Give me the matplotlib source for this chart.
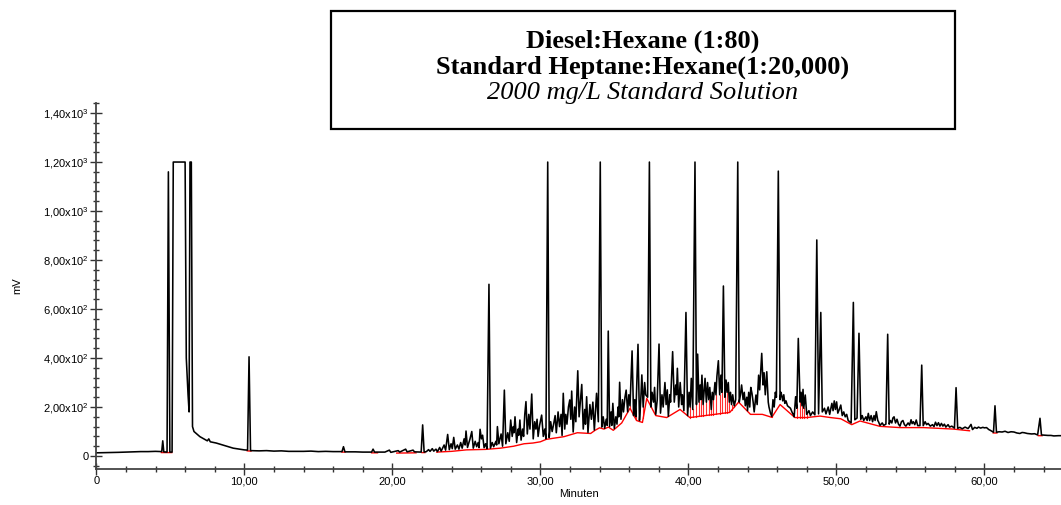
import numpy as np
import matplotlib
matplotlib.use("Agg")
import matplotlib.pyplot as plt
from matplotlib.patches import Rectangle
from matplotlib.ticker import MultipleLocator

plt.rcParams['font.family'] = ['Liberation Sans', 'DejaVu Sans']
plt.rcParams['mathtext.default'] = 'regular'

# chromatogram trace as (minutes, mV) vertices
trace_early = [(0, 13), (0.8, 14), (1.5, 15), (2.0, 16), (2.5, 17), (3.0, 18), (3.5, 18), (4.0, 19), (4.35, 18),
               (4.42, 18), (4.49, 62), (4.56, 17), (4.78, 16), (4.87, 1160), (4.97, 16), (5.12, 16),
               (5.2, 1200), (6.0, 1200), (6.08, 400), (6.2, 250), (6.27, 180), (6.33, 1200), (6.42, 1200),
               (6.5, 120), (6.6, 100), (7.0, 79), (7.5, 62), (7.6, 70), (7.7, 58), (8.1, 53), (9.25, 32),
               (10.0, 25), (10.22, 24), (10.32, 405), (10.42, 22), (11, 21), (11.5, 22), (12, 20), (12.5, 21),
               (13, 19), (14, 19), (14.5, 20), (15, 18), (15.5, 19), (16, 18), (16.6, 18), (16.7, 38), (16.8, 17),
               (17.5, 17), (18, 16), (18.6, 16), (18.7, 28), (18.8, 16), (19.5, 16), (19.8, 24), (19.9, 15),
               (20.4, 22), (20.5, 16), (20.9, 28), (21.0, 17), (21.4, 24), (21.5, 17), (21.95, 16), (22.05, 127),
               (22.15, 16)]
trace_mid = [(22.3, 18), (22.45, 26), (22.55, 19), (22.7, 30), (22.8, 20), (22.95, 28), (23.05, 18), (23.2, 35),
             (23.3, 20), (23.5, 45), (23.6, 24), (23.74, 88), (23.85, 26), (23.97, 50), (24.05, 30), (24.15, 76),
             (24.25, 28), (24.4, 45), (24.5, 28), (24.62, 55), (24.72, 32), (24.85, 70), (24.92, 45), (24.98, 102),
             (25.08, 35), (25.25, 70), (25.37, 100), (25.47, 32), (25.6, 60), (25.7, 38), (25.8, 55), (25.86, 34),
             (25.93, 109), (26.02, 70), (26.1, 85), (26.2, 34), (26.3, 50), (26.4, 30), (26.53, 701), (26.63, 32),
             (26.75, 55), (26.85, 38), (27.0, 60), (27.05, 45), (27.1, 120), (27.2, 50), (27.35, 90), (27.45, 40),
             (27.57, 269), (27.67, 50), (27.8, 95), (27.9, 60), (28.0, 147), (28.1, 80), (28.18, 120), (28.22, 95),
             (28.29, 160), (28.4, 55), (28.5, 110), (28.55, 85), (28.62, 147), (28.7, 65), (28.8, 110), (28.87, 80),
             (28.95, 170), (29.03, 222), (29.12, 90), (29.22, 170), (29.3, 110), (29.42, 253), (29.52, 70),
             (29.62, 140), (29.7, 110), (29.78, 150), (29.85, 80), (29.95, 125), (30.09, 167), (30.2, 80),
             (30.3, 110), (30.38, 70), (30.5, 1200), (30.6, 75), (30.7, 140), (30.8, 100), (30.9, 130), (31.0, 165),
             (31.08, 95), (31.2, 180), (31.3, 120), (31.4, 170), (31.47, 84), (31.55, 256), (31.65, 110),
             (31.72, 170), (31.8, 130), (31.9, 200), (31.99, 229), (32.06, 150), (32.12, 265), (32.22, 98),
             (32.32, 200), (32.4, 140), (32.53, 348), (32.62, 160), (32.7, 220), (32.8, 292), (32.9, 110),
             (33.0, 190), (33.05, 130), (33.13, 242), (33.22, 96), (33.35, 210), (33.45, 150), (33.55, 220),
             (33.65, 106), (33.8, 256), (33.92, 140), (34.05, 1200), (34.15, 118), (34.25, 160), (34.35, 113),
             (34.45, 150), (34.52, 125), (34.59, 510), (34.68, 120), (34.78, 180), (34.83, 125), (34.9, 215),
             (35.0, 112), (35.1, 160), (35.18, 130), (35.25, 200), (35.3, 160), (35.36, 301), (35.45, 150),
             (35.55, 230), (35.62, 180), (35.72, 240), (35.8, 269), (35.9, 180), (35.98, 250), (36.06, 205),
             (36.2, 429), (36.3, 165), (36.38, 230), (36.45, 160), (36.6, 456), (36.7, 145), (36.78, 220),
             (36.86, 331), (36.95, 200), (37.05, 300), (37.12, 250), (37.25, 240), (37.37, 1200), (37.47, 200),
             (37.55, 260), (37.65, 220), (37.72, 280), (37.8, 170), (37.9, 230), (38.02, 457), (38.12, 175),
             (38.22, 250), (38.3, 200), (38.42, 300), (38.5, 210), (38.58, 270), (38.65, 162), (38.75, 250),
             (38.8, 220), (38.94, 426), (39.05, 220), (39.15, 290), (39.2, 250), (39.26, 358), (39.35, 200),
             (39.45, 300), (39.55, 210), (39.6, 250), (39.7, 185), (39.84, 586), (39.95, 165), (40.05, 260),
             (40.12, 200), (40.2, 317), (40.3, 190), (40.45, 1200), (40.55, 210), (40.63, 416), (40.72, 220),
             (40.8, 290), (40.85, 230), (40.92, 330), (41.0, 210), (41.13, 317), (41.22, 220), (41.3, 300),
             (41.38, 230), (41.45, 280), (41.55, 190), (41.62, 260), (41.7, 230), (41.8, 300), (41.87, 250),
             (41.93, 324), (42.03, 389), (42.12, 250), (42.2, 330), (42.27, 260), (42.37, 694), (42.47, 240),
             (42.55, 310), (42.62, 260), (42.7, 300), (42.77, 220), (42.85, 260), (42.92, 210), (43.0, 250),
             (43.1, 205), (43.2, 230), (43.34, 1200), (43.44, 220), (43.52, 250), (43.6, 290), (43.7, 230),
             (43.78, 260), (43.85, 205), (43.95, 240), (44.0, 185), (44.08, 260), (44.15, 200), (44.22, 280),
             (44.3, 256), (44.38, 220), (44.45, 180), (44.57, 249), (44.65, 210), (44.75, 330), (44.82, 270),
             (44.96, 419), (45.05, 290), (45.12, 340), (45.2, 250), (45.3, 344), (45.4, 220), (45.45, 200),
             (45.55, 175), (45.64, 162), (45.72, 230), (45.8, 200), (45.88, 260), (45.95, 240), (46.08, 1163),
             (46.2, 230), (46.26, 260), (46.32, 245), (46.38, 225), (46.45, 250), (46.52, 215), (46.6, 225),
             (46.7, 205), (46.8, 200), (46.9, 195), (47.0, 180), (47.08, 170), (47.15, 160), (47.25, 242),
             (47.33, 195), (47.43, 480), (47.55, 220), (47.62, 260), (47.68, 205), (47.75, 272), (47.8, 195),
             (47.9, 249), (48.0, 170)]
trace_late = [(48.15, 185), (48.25, 165), (48.4, 180), (48.55, 168), (48.68, 882), (48.8, 172), (48.95, 586),
              (49.05, 180), (49.2, 195), (49.3, 172), (49.45, 200), (49.55, 170), (49.7, 215), (49.78, 185),
              (49.86, 225), (49.94, 190), (50.02, 221), (50.1, 175), (50.2, 190), (50.3, 208), (50.4, 165),
              (50.5, 180), (50.6, 160), (50.7, 170), (50.8, 145), (51.0, 135), (51.15, 627), (51.25, 148),
              (51.4, 155), (51.53, 501), (51.65, 150), (51.75, 165), (51.85, 145), (52.0, 160), (52.08, 145),
              (52.16, 174), (52.25, 145), (52.35, 165), (52.45, 140), (52.55, 165), (52.62, 145), (52.7, 181),
              (52.8, 145), (52.85, 140), (52.95, 125), (53.1, 135), (53.2, 125), (53.35, 130), (53.47, 497),
              (53.57, 130), (53.65, 145), (53.75, 135), (53.82, 155), (53.9, 160), (54.0, 135), (54.1, 150),
              (54.2, 130), (54.3, 122), (54.4, 140), (54.5, 145), (54.6, 128), (54.7, 122), (54.85, 135),
              (54.95, 126), (55.05, 148), (55.12, 132), (55.2, 140), (55.3, 128), (55.4, 147), (55.5, 124),
              (55.65, 124), (55.77, 371), (55.87, 124), (56.0, 140), (56.1, 128), (56.2, 133), (56.35, 122),
              (56.5, 128), (56.6, 120), (56.7, 138), (56.8, 124), (56.9, 136), (57.0, 122), (57.1, 133), (57.2, 122),
              (57.3, 130), (57.4, 118), (57.55, 128), (57.65, 118), (57.8, 122), (57.98, 114), (58.09, 279),
              (58.2, 113), (58.35, 117), (58.5, 111), (58.7, 118), (58.9, 112), (59.0, 120), (59.1, 129),
              (59.2, 108), (59.35, 117), (59.5, 113), (59.6, 118), (59.75, 114), (59.9, 117), (60.0, 115),
              (60.15, 116), (60.3, 108), (60.4, 105), (60.62, 97), (60.72, 205), (60.82, 97), (61.0, 99),
              (61.2, 98), (61.4, 101), (61.6, 96), (61.8, 99), (62.0, 98), (62.2, 94), (62.4, 92), (62.55, 96),
              (62.7, 95), (62.9, 92), (63.2, 90), (63.4, 91), (63.6, 86), (63.76, 154), (63.86, 86), (64.1, 85),
              (64.3, 84), (64.5, 84), (64.7, 82), (65.0, 83), (65.3, 83)]

# integration baseline (red), nan = gap between segments
base_t = [4.4, 5.1, np.nan, 10.2, 10.45, np.nan, 16.6, 16.8, np.nan, 18.6, 19.0, np.nan, 20.3, 21.6, np.nan,
          22.0, 22.2, np.nan, 23.0, 24.0, 25.0, 26.3, 27.3, 28.2, 28.9, 29.5, 30.0, 30.4, 31.6, 32.5, 33.4, 33.7,
          34.0, 34.3, 34.6, 34.93, 35.5, 36.06, 36.5, 36.9, 37.19, 37.8, 38.54, 39.44, 40.1, 42.8, 43.4, 44.2,
          45.0, 45.64, 46.2, 47.2, 48.0, 48.9, 49.6, 50.3, 51.04, 51.6, 52.95, 54.3, 55.9, 57.9, 59.0, np.nan,
          60.6, 60.85, np.nan, 63.65, 63.9]
base_mv = [14, 14, np.nan, 21, 20, np.nan, 16, 16, np.nan, 13, 13, np.nan, 12, 13, np.nan,
           14, 14, np.nan, 16, 19, 25, 27, 32, 40, 50, 53, 58, 68, 79, 95, 92, 105,
           115, 110, 118, 105, 135, 195, 145, 137, 235, 165, 157, 190, 157, 178, 220, 170,
           170, 158, 210, 157, 157, 163, 157, 152, 128, 143, 121, 116, 116, 110, 103, np.nan,
           94, 94, np.nan, 83, 83]

# ranges with drop lines from the trace valleys down to the baseline
drop_ranges = [(35.9, 37.0), (39.9, 43.1), (45.3, 45.7), (47.1, 48.1)]

yticks = [0, 200, 400, 600, 800, 1000, 1200, 1400]
ytick_labels = ['0', '2,00x10$^2$', '4,00x10$^2$', '6,00x10$^2$', '8,00x10$^2$',
                '1,00x10$^3$', '1,20x10$^3$', '1,40x10$^3$']
xticks = [0, 10, 20, 30, 40, 50, 60]
xtick_labels = ['0', '10,00', '20,00', '30,00', '40,00', '50,00', '60,00']

W, H = 1061, 505
fig = plt.figure(figsize=(W / 100, H / 100), dpi=100)
ax = fig.add_axes([96.3 / W, 1 - 468.7 / H, 1 - 96.3 / W, (468.7 - 103) / H])

pts = np.array(trace_early + trace_mid + trace_late, dtype=float)
tt, tv = pts[:, 0], pts[:, 1]
bt = np.array(base_t)
bv = np.array(base_mv)

# drop lines at local minima of the trace
ok = ~np.isnan(bt)
for i in range(1, len(tt) - 1):
    if tv[i] < tv[i - 1] and tv[i] < tv[i + 1]:
        if any(lo <= tt[i] <= hi for lo, hi in drop_ranges):
            b = np.interp(tt[i], bt[ok], bv[ok])
            ax.plot([tt[i], tt[i]], [b, tv[i]], color='#ff3030', lw=0.8, zorder=1)

ax.plot(bt, bv, color='#ff0000', lw=1.0, zorder=1)
ax.plot(tt, tv, color='black', lw=1.15, zorder=2)

ax.set_xlim(0, 65.18)
ax.set_ylim(-51.8, 1441)
for s in ['top', 'right']:
    ax.spines[s].set_visible(False)
for s in ['left', 'bottom']:
    ax.spines[s].set_color('#444444')
    ax.spines[s].set_linewidth(1.3)

ax.set_xticks(xticks)
ax.set_xticklabels(xtick_labels)
ax.set_yticks(yticks)
ax.set_yticklabels(ytick_labels)
ax.xaxis.set_minor_locator(MultipleLocator(2))
ax.yaxis.set_minor_locator(MultipleLocator(40))
ax.tick_params(which='major', direction='inout', length=8, width=1.0, color='#333333',
               labelsize=8, pad=1.5)
ax.tick_params(which='minor', direction='inout', length=5, width=1.0, color='#333333')
ax.set_xlabel('Minuten', fontsize=8, labelpad=2)
ax.set_ylabel('mV', fontsize=8, labelpad=15)

# title box
fig.patches.append(Rectangle((331 / W, 1 - 129 / H), (955 - 331) / W, (129 - 11) / H,
                             transform=fig.transFigure, facecolor='white', edgecolor='black',
                             lw=1.6, zorder=5))
cx = 643 / W
fig.text(cx, 1 - 48 / H, 'Diesel:Hexane (1:80)', ha='center', va='baseline',
         family='Liberation Serif', weight='bold', fontsize=19, zorder=6)
fig.text(cx, 1 - 74 / H, 'Standard Heptane:Hexane(1:20,000)', ha='center', va='baseline',
         family='Liberation Serif', weight='bold', fontsize=19, zorder=6)
fig.text(cx, 1 - 99 / H, '2000 mg/L Standard Solution', ha='center', va='baseline',
         family='Liberation Serif', style='italic', fontsize=19, zorder=6)

fig.savefig('out.png', dpi=100)
